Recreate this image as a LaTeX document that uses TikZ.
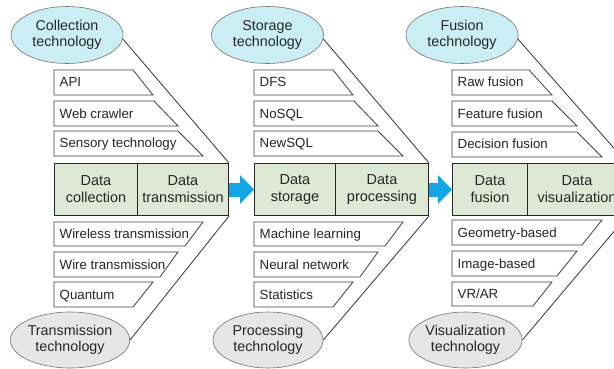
\documentclass[tikz,border=0pt]{standalone}
\usepackage{fontspec}
\setmainfont{Liberation Sans}
\usetikzlibrary{shapes.geometric,arrows.meta}
\definecolor{topfill}{HTML}{CBEEF4}
\definecolor{botfill}{HTML}{E6E6E6}
\definecolor{mainfill}{HTML}{DDE9D4}
\definecolor{arrowblue}{HTML}{14A6E4}
\newcommand\UItem[6]{% name, ytop, ybot, xtopright, xbotright, text
  \path[itemline] (54,#2) -- (#4,#2) -- (#5,#3) -- (54,#3) -- cycle;
  \node[itemtext] (#1) at (54,{(#2+#3)/2}) {#6};}
\begin{document}
\begin{tikzpicture}[x=1pt,y=-1pt,
  topell/.style={ellipse, draw=black!55, fill=topfill, line width=0.6pt,
    minimum width=112pt, minimum height=57pt, inner sep=0pt, align=center,
    font=\fontsize{14.3}{16}\selectfont, text=black!85},
  botell/.style={topell, fill=botfill, minimum width=110pt, minimum height=56pt},
  mainbox/.style={rectangle, draw=black!85, fill=mainfill, line width=1pt,
    minimum height=52pt, inner sep=0pt, align=center, anchor=north west,
    font=\fontsize{14.5}{17}\selectfont, text=black!85},
  itemline/.style={draw=black!75, fill=white, line width=0.8pt},
  itemtext/.style={anchor=west, inner xsep=5.5pt, inner ysep=0pt,
    text height=9.5pt, text depth=0.5pt,
    font=\fontsize{13.3}{15}\selectfont, text=black!85},
  link/.style={draw=black!80, line width=0.8pt},
  flow/.style={draw=arrowblue, line width=14pt, -{Triangle[length=14pt,width=28pt]}}
]
\useasboundingbox (0,0) rectangle (614,369);
\clip (0,0) rectangle (614,369);

% ---------- section 1 ----------
\node[topell] (ct) at (67,35) {Collection\\technology};
\node[botell] (tt) at (70,340) {Transmission\\technology};
\node[mainbox, minimum width=83pt] (dc) at (54,163) {Data\\collection};
\node[mainbox, minimum width=91pt] (dt) at (137,163) {Data\\transmission};
\UItem{api}{70}{95}{133}{153}{API}
\UItem{web}{101}{126}{154}{178}{Web crawler}
\UItem{sen}{131}{156}{178}{203}{Sensory technology}
\UItem{wls}{222}{246}{203}{185}{Wireless transmission}
\UItem{wir}{252}{277}{178}{160}{Wire transmission}
\UItem{qua}{282}{307}{153}{133}{Quantum}
\draw[link] (ct.-4) -- (dt.north east);
\draw[link] (dt.south east) -- (tt.east);

% ---------- section 2 ----------
\node[topell] (st) at (267.5,35) {Storage\\technology};
\node[botell] (pt) at (268,340) {Processing\\technology};
\node[mainbox, minimum width=81pt] (ds) at (254,163) {Data\\storage};
\node[mainbox, minimum width=93pt] (dp) at (335,163) {Data\\processing};
\begin{scope}[shift={(200,0)}]
\UItem{dfs}{70}{95}{133}{153}{DFS}
\UItem{nos}{101}{126}{154}{178}{NoSQL}
\UItem{nes}{131}{156}{178}{203}{NewSQL}
\UItem{mac}{222}{246}{203}{185}{Machine learning}
\UItem{neu}{252}{277}{178}{160}{Neural network}
\UItem{sta}{282}{307}{153}{133}{Statistics}
\end{scope}
\draw[link] (st.-4) -- (dp.north east);
\draw[link] (dp.south east) -- (pt.east);

% ---------- section 3 ----------
\node[topell] (ft) at (462,35) {Fusion\\technology};
\node[botell] (vt) at (465.5,340) {Visualization\\technology};
\node[mainbox, minimum width=75pt] (df) at (452,163) {Data\\fusion};
\node[mainbox, minimum width=99pt] (dv) at (527,163) {Data\\visualization};
\begin{scope}[shift={(398,0)}]
\UItem{raw}{70}{95}{131}{154}{Raw fusion}
\UItem{fea}{101}{126}{154}{179}{Feature fusion}
\UItem{dec}{132}{157}{179}{204}{Decision fusion}
\UItem{geo}{220}{245}{204}{184}{Geometry-based}
\UItem{ima}{251}{276}{179}{159}{Image-based}
\UItem{vra}{282}{306}{154}{135}{VR/AR}
\end{scope}
\draw[link] (ft.-4) -- (dv.north east);
\draw[link] (dv.south east) -- (vt.east);

% ---------- flow arrows ----------
\draw[flow] (dt.east) -- (ds.west);
\draw[flow] (dp.east) -- (df.west);
\end{tikzpicture}
\end{document}
